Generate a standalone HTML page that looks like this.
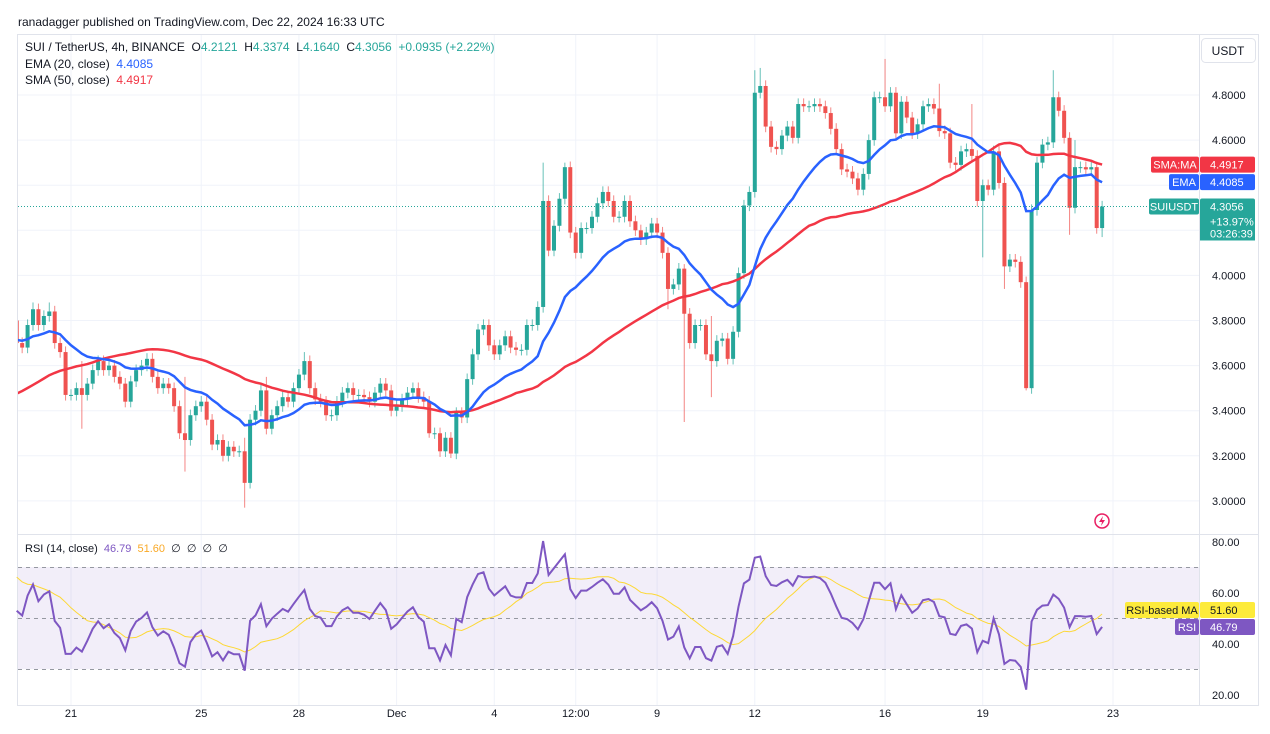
<!DOCTYPE html>
<html><head><meta charset="utf-8"><style>
html,body{margin:0;padding:0;background:#fff;width:1270px;height:734px;overflow:hidden;font-family:"Liberation Sans",sans-serif}
svg text{font-family:"Liberation Sans",sans-serif;white-space:pre}
</style></head><body>
<svg id="chart" width="1270" height="734" xmlns="http://www.w3.org/2000/svg">
<rect x="0" y="0" width="1270" height="734" fill="#fff"/>
<text x="18" y="26" font-size="12" fill="#131722">ranadagger published on TradingView.com, Dec 22, 2024 16:33 UTC</text>
<rect x="17.5" y="34.5" width="1241" height="671" fill="none" stroke="#e0e3eb"/>
<g id="grid"></g>
<rect x="18" y="567" width="1181" height="102" fill="#7e57c2" fill-opacity="0.1"/>
<g id="rsiLines"></g>
<g id="main" clip-path="url(#mc)"></g>
<clipPath id="mc"><rect x="18" y="35" width="1181" height="498"/></clipPath>
<line x1="18" y1="534.5" x2="1258" y2="534.5" stroke="#e0e3eb"/>
<line x1="1199.5" y1="35" x2="1199.5" y2="705" stroke="#e0e3eb"/>
<g id="axes"></g>
<g font-size="12">
<text x="25" y="51" fill="#131722">SUI / TetherUS, 4h, BINANCE  <tspan fill="#131722">O</tspan><tspan fill="#26a69a">4.2121</tspan>  <tspan fill="#131722">H</tspan><tspan fill="#26a69a">4.3374</tspan>  <tspan fill="#131722">L</tspan><tspan fill="#26a69a">4.1640</tspan>  <tspan fill="#131722">C</tspan><tspan fill="#26a69a">4.3056  +0.0935 (+2.22%)</tspan></text>
<text x="25" y="68" fill="#131722">EMA (20, close)  <tspan fill="#2962ff">4.4085</tspan></text>
<text x="25" y="84" fill="#131722">SMA (50, close)  <tspan fill="#f23645">4.4917</tspan></text>
<text x="25" y="552" fill="#131722" font-size="11">RSI (14, close)  <tspan fill="#7e57c2">46.79</tspan>  <tspan fill="#f9a825">51.60</tspan>  ∅  ∅  ∅  ∅</text>
</g>
<g>
<rect x="1201.5" y="38.5" width="54" height="24" rx="4" fill="#fff" stroke="#e0e3eb"/>
<text x="1228" y="55" font-size="12" text-anchor="middle" fill="#131722">USDT</text>
</g>
<g>
<circle cx="1102" cy="521" r="7" fill="none" stroke="#e91e63" stroke-width="1.5"/>
<path d="M1103 516 L1099 522 L1102 522 L1101 526 L1105 520 L1102 520 Z" fill="#e91e63"/>
</g>
</svg>
<script>
const history = [3.10,3.12,3.15,3.10,3.08,3.12,3.18,3.20,3.15,3.14,3.18,3.22,3.25,3.20,3.18,3.22,3.28,3.30,3.26,3.24,3.28,3.32,3.35,3.40,3.45,3.55,3.62,3.68,3.70,3.66,3.72,3.75,3.70,3.68,3.74,3.78,3.80,3.76,3.72,3.75,3.78,3.82,3.78,3.74,3.76,3.80,3.78,3.75,3.80];
const closes = [3.70,3.68,3.78,3.85,3.78,3.82,3.84,3.70,3.66,3.47,
3.47,3.50,3.47,3.52,3.58,3.62,3.58,3.60,3.55,3.52,3.44,3.53,3.58,3.60,3.63,3.55,3.50,3.52,3.50,3.42,
3.30,3.27,3.38,3.42,3.44,3.36,3.25,3.27,3.20,3.24,3.22,3.22,3.08,3.36,3.40,3.49,3.32,3.38,3.42,3.46,
3.44,3.50,3.56,3.62,3.50,3.45,3.44,3.38,3.38,3.44,3.48,3.50,3.47,3.47,3.46,3.44,3.48,3.52,3.49,3.40,
3.42,3.45,3.48,3.50,3.46,3.44,3.30,3.30,3.22,3.28,3.21,3.39,3.37,3.54,3.65,3.76,3.78,3.69,3.65,3.69,
3.73,3.68,3.67,3.67,3.78,3.78,3.86,4.33,4.11,4.22,4.34,4.48,4.19,4.10,4.21,4.21,4.26,4.32,4.37,4.33,
4.26,4.26,4.33,4.24,4.20,4.16,4.19,4.23,4.19,4.10,3.94,3.96,4.03,3.83,3.70,3.78,3.78,3.65,3.62,3.71,
3.72,3.63,3.75,4.01,4.31,4.37,4.81,4.84,4.66,4.57,4.56,4.62,4.66,4.61,4.76,4.75,4.75,4.76,4.75,4.72,
4.65,4.56,4.47,4.46,4.43,4.38,4.45,4.60,4.79,4.79,4.75,4.81,4.63,4.77,4.70,4.63,4.67,4.75,4.76,4.74,
4.64,4.63,4.50,4.49,4.55,4.56,4.53,4.33,4.40,4.38,4.55,4.41,4.04,4.07,4.06,3.97,3.50,4.29,4.50,4.58,
4.59,4.79,4.73,4.61,4.30,4.48,4.48,4.47,4.48,4.21,4.3056];
const firstIndex = -10;
const highIdx = [-7,-4,2,21,32,36,43,87,91,113,118,126,127,150,160,166,181,185];
const highVal = [3.88,3.88,3.62,3.55,3.28,3.55,3.66,4.50,4.50,4.05,3.82,4.91,4.92,4.96,4.85,4.76,4.91,4.60];
const lowIdx = [2,21,32,66,70,110,113,118,168,172,176,184,190];
const lowVal = [3.32,3.13,2.97,3.28,3.19,3.85,3.35,3.46,4.08,3.94,3.49,4.18,4.17];
const priceTicks = [3.0,3.2,3.4,3.6,3.8,4.0,4.2,4.4,4.6,4.8];
const rsiTicks = [80,60,40,20];
const dayLabels = ["21","25","28","Dec","4","12:00","9","12","16","19","23"];
const dayIdx = [0,24,42,60,78,93,108,126,150,168,192];

const NS="http://www.w3.org/2000/svg";
function mk(tag,attrs,parent){const e=document.createElementNS(NS,tag);for(const k in attrs)e.setAttribute(k,attrs[k]);parent.appendChild(e);return e;}
const xOf=i=>71+i*5.427;
const yP=p=>95+(4.8-p)*225.5;
const yR=v=>542+(80-v)*2.55;
const grid=document.getElementById('grid'),main=document.getElementById('main'),axes=document.getElementById('axes'),rl=document.getElementById('rsiLines');

priceTicks.forEach(p=>{
  const l=mk('line',{x1:18,x2:1199,y1:yP(p),y2:yP(p),stroke:'#f0f3fa'},grid);
  
  
  const t=mk('text',{x:1212,y:yP(p)+4,'font-size':11,fill:'#131722'},axes);
  t.textContent=p.toFixed(4);
  
  
});
rsiTicks.forEach(v=>{
  const t=mk('text',{x:1212,y:yR(v)+4,'font-size':11,fill:'#131722'},axes);
  t.textContent=v.toFixed(2);
  
  
});
dayIdx.forEach((d,k)=>{
  const x=xOf(d);
  const l=mk('line',{x1:x,x2:x,y1:35,y2:705,stroke:'#f0f3fa'},grid);
  
  
  const t=mk('text',{x:x,y:717,'font-size':11,fill:'#131722','text-anchor':'middle'},axes);
  t.textContent=dayLabels[k];
  
  
});
[70,50,30].forEach(v=>{
  const l=mk('line',{x1:18,x2:1199,y1:yR(v),y2:yR(v),stroke:'#9598a1','stroke-dasharray':'4 4','stroke-width':1},rl);
  
  
});

const all=history.concat(closes);
const H=history.length;
const ema=[];let e=all[0];
all.forEach((c,k)=>{e=k===0?c:(c-e)*2/21+e;ema.push(e);});
const sma=all.map((c,k)=>{if(k<49)return null;let s=0;for(let j=k-49;j<=k;j++)s+=all[j];return s/50;});
const rsi=[];let ag=0,al=0;
for(let k=1;k<all.length;k++){const d=all[k]-all[k-1];const g=Math.max(d,0),l=Math.max(-d,0);
  if(k<=14){ag+=g/14;al+=l/14;}else{ag=(ag*13+g)/14;al=(al*13+l)/14;}
  rsi[k]=k>=14?(al===0?100:100-100/(1+ag/al)):null;}
const rsiMa=rsi.map((v,k)=>{if(k<27)return null;let s=0;for(let j=k-13;j<=k;j++)s+=rsi[j];return s/14;});

closes.forEach((c,k)=>{
  const i=k+firstIndex;const o=k===0?history[H-1]:closes[k-1];
  let hi=Math.max(o,c)+0.025,lo=Math.min(o,c)-0.025;
  const hI=highIdx.indexOf(i);if(hI>=0)hi=highVal[hI];
  const lI=lowIdx.indexOf(i);if(lI>=0)lo=lowVal[lI];
  const col=c>=o?'#26a69a':'#ef5350';const x=xOf(i);
  const g=mk('g',{},main);
  
  
  mk('line',{x1:x,x2:x,y1:yP(hi),y2:yP(lo),stroke:col,'stroke-width':1,'stroke-opacity':0.7},g);
  const top=yP(Math.max(o,c)),bot=yP(Math.min(o,c));
  mk('rect',{x:x-2,y:top,width:4,height:Math.max(bot-top,1),fill:col},g);
});
function path(arr,yf,start){let d='';for(let k=start;k<all.length;k++){if(arr[k]==null)continue;const x=xOf(k-H+firstIndex);d+=(d?'L':'M')+x.toFixed(1)+' '+yf(arr[k]).toFixed(1);}return d;}
const sl=mk('path',{d:path(sma,yP,H),fill:'none',stroke:'#f23645','stroke-width':2.5},main);


const el=mk('path',{d:path(ema,yP,H),fill:'none',stroke:'#2962ff','stroke-width':2.5},main);


const lp=closes[closes.length-1];
const pl=mk('line',{x1:18,x2:1199,y1:yP(lp),y2:yP(lp),stroke:'#26a69a','stroke-dasharray':'1 2'},main);


const rma=mk('path',{d:path(rsiMa,yR,H),fill:'none',stroke:'#fdd835','stroke-width':1},rl);


const rp=mk('path',{d:path(rsi,yR,H),fill:'none',stroke:'#7e57c2','stroke-width':2},rl);



function tag(name,label,val,y,bg,fg,w){
  const g=mk('g',{},axes);
  
  
  mk('rect',{x:1199-w,y:y-8,width:w,height:16,rx:2,fill:bg},g);
  const t=mk('text',{x:1199-w/2,y:y+4,'font-size':11,'text-anchor':'middle',fill:fg},g);t.textContent=label;
  mk('rect',{x:1200,y:y-8,width:55,height:16,rx:2,fill:bg},g);
  const t2=mk('text',{x:1210,y:y+4,'font-size':11,fill:fg},g);t2.textContent=val;
  return g;
}
tag('sma-tag','SMA:MA','4.4917',yP(sma[all.length-1]),'#f23645','#fff',48);
tag('ema-tag','EMA','4.4085',yP(ema[all.length-1]),'#2962ff','#fff',30);
const st=tag('price-tag','SUIUSDT','4.3056',yP(lp),'#26a69a','#fff',50);
mk('rect',{x:1200,y:yP(lp)+6,width:55,height:28,fill:'#26a69a'},st);
const t3=mk('text',{x:1210,y:yP(lp)+19,'font-size':11,fill:'#fff'},st);t3.textContent='+13.97%';
const t4=mk('text',{x:1210,y:yP(lp)+31,'font-size':11,fill:'#fff'},st);t4.textContent='03:26:39';
tag('rsi-ma-tag','RSI-based MA','51.60',610,'#fdeb3b','#131722',74);
tag('rsi-tag','RSI','46.79',627,'#7e57c2','#fff',24);
</script>
</body></html>
